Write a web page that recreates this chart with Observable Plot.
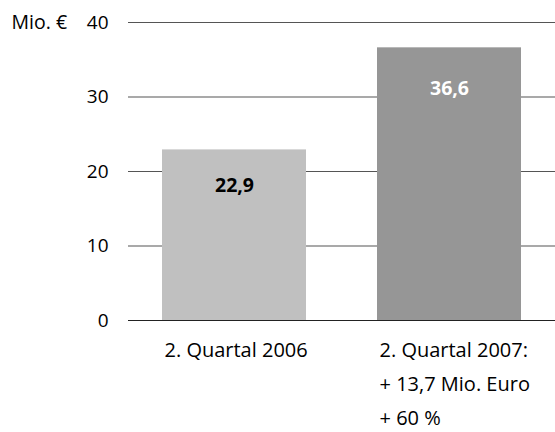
<!DOCTYPE html>
<html>
<head>
<meta charset="utf-8">
<script src="https://cdn.jsdelivr.net/npm/d3@7"></script>
<script src="https://cdn.jsdelivr.net/npm/@observablehq/plot@0.6"></script>
<style>
  html, body { margin: 0; padding: 0; background: #fff; }
</style>
</head>
<body>
<div id="chart"></div>
<script>
const categories = ["2. Quartal 2006", "2. Quartal 2007"];
const values = [22.9, 36.6];
const valueLabels = ["22,9", "36,6"];
const axisLabels = ["2. Quartal 2006", "2. Quartal 2007:\n+ 13,7 Mio. Euro\n+ 60 %"];
const yTicks = [0, 10, 20, 30, 40];
const barColors = ["#c0c0c0", "#969696"];
const labelColors = ["#000000", "#ffffff"];
const unitLabel = "Mio. €";

const data = categories.map((c, i) => ({
  cat: c, value: values[i], label: valueLabels[i], axis: axisLabels[i],
  color: barColors[i], tcolor: labelColors[i]
}));

const font = "'Open Sans', sans-serif";

const chart = Plot.plot({
  width: 555,
  height: 432,
  marginLeft: 128,
  marginRight: 0,
  marginTop: 22,
  marginBottom: 112,
  style: { fontFamily: font, background: "#fff", color: "#000" },
  x: { domain: categories, paddingInner: 0.329, paddingOuter: 0.153, axis: null },
  y: { domain: [0, 40] },
  marks: [
    Plot.ruleY(yTicks.filter(d => d > 0), { stroke: "#555", strokeWidth: 1.2 }),
    Plot.ruleY([0], { stroke: "#222", strokeWidth: 1.2 }),
    Plot.barY(data, { x: "cat", y: "value", fill: "color" }),
    Plot.text(data.slice(0, 1), { x: "cat", y: "value", text: "label", fill: "tcolor", dy: 36, fontSize: 19.5, fontWeight: "bold" }),
    Plot.text(data.slice(1), { x: "cat", y: "value", text: "label", fill: "tcolor", dy: 41, fontSize: 19.5, fontWeight: "bold" }),
    Plot.axisY({ ticks: yTicks, tickSize: 0, tickPadding: 20, fontSize: 19, fill: "#000", label: null, tickFormat: d => String(d) }),
    Plot.text([unitLabel], { y: [40], frameAnchor: "left", dx: -117, textAnchor: "start", fontSize: 19.5, fill: "#000", letterSpacing: "0.5px" }),
    Plot.text(data, { x: "cat", text: "axis", frameAnchor: "bottom", textAnchor: "start", lineAnchor: "top", dx: -70, dy: 13, fontSize: 20, lineHeight: 1.68, fill: "#000" })
  ]
});
document.getElementById("chart").appendChild(chart);
</script>
</body>
</html>
